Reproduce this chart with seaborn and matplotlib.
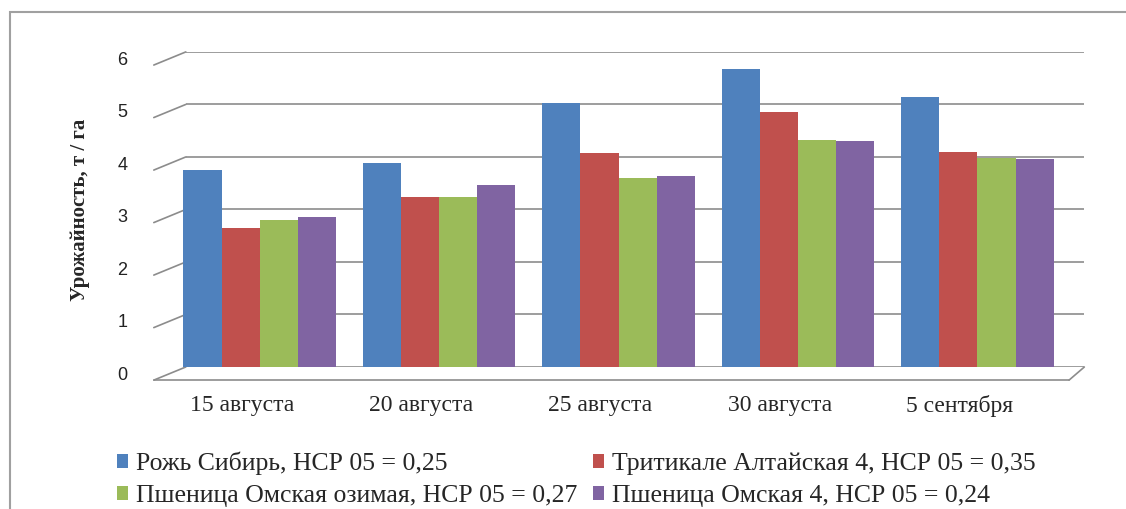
import pandas as pd
import matplotlib.pyplot as plt
import matplotlib.transforms as mtransforms
import seaborn as sns
from matplotlib.patches import Rectangle

# dates of sowing and yields, t/ha
dates = ['15 августа', '20 августа', '25 августа', '30 августа', '5 сентября']
varieties = ['Рожь Сибирь, НСР 05 = 0,25',
             'Тритикале Алтайская 4, НСР 05 = 0,35',
             'Пшеница Омская озимая, НСР 05 = 0,27',
             'Пшеница Омская 4, НСР 05 = 0,24']
rye = [3.75, 3.89, 5.03, 5.68, 5.14]
triticale = [2.65, 3.24, 4.07, 4.86, 4.10]
wheat_winter = [2.80, 3.23, 3.60, 4.32, 3.98]
wheat_4 = [2.86, 3.47, 3.64, 4.30, 3.96]
colors = ['#4F81BD', '#C0504D', '#9BBB59', '#8064A2']

data = pd.DataFrame({
    'date': dates * 4,
    'variety': [v for v in varieties for _ in dates],
    'value': rye + triticale + wheat_winter + wheat_4,
})

sns.set_theme(style='white')
fig = plt.figure(figsize=(11.26, 5.09), dpi=100)
ax = fig.add_axes([0.165, 0.279, 0.798, 0.619])

sns.barplot(data=data, x='date', y='value', hue='variety', palette=colors,
            width=0.85, ax=ax, legend=True, saturation=1, zorder=3,
            edgecolor='none')
for p in ax.patches:
    p.set_clip_on(False)

ax.set_ylim(0, 6)
ax.set_xlim(-0.412, 4.596)
ax.set_yticks(range(0, 7))
ax.yaxis.grid(True, color='#8c8c8c', linewidth=1.2, zorder=0)
for side in ['top', 'right', 'left', 'bottom']:
    ax.spines[side].set_visible(False)

# slanted wall edges at the left end of each gridline (pseudo-3D look)
trans = mtransforms.blended_transform_factory(ax.transAxes, ax.transData)
for v in range(0, 7):
    ax.plot([-0.0356, 0], [v - 0.25, v], transform=trans, color='#8c8c8c',
            linewidth=1.2, clip_on=False, zorder=1)
ax.plot([-0.0356, 0.983], [-0.25, -0.25], transform=trans, color='#8c8c8c',
        linewidth=1.2, clip_on=False, zorder=1)
ax.plot([0.983, 1.0], [-0.25, 0], transform=trans, color='#8c8c8c',
        linewidth=1.2, clip_on=False, zorder=1)

ax.tick_params(axis='y', labelsize=13, colors='#222222', pad=42, length=0)
ax.tick_params(axis='x', length=0, pad=20)
shift_y = mtransforms.ScaledTranslation(0, -4.5 / 72, fig.dpi_scale_trans)
for lbl in ax.get_yticklabels():
    lbl.set_fontfamily('Liberation Sans')
    lbl.set_transform(lbl.get_transform() + shift_y)
shift_x = mtransforms.ScaledTranslation(-13 / 72, 0, fig.dpi_scale_trans)
for lbl in ax.get_xticklabels():
    lbl.set_fontfamily('Liberation Serif')
    lbl.set_fontsize(17)
    lbl.set_transform(lbl.get_transform() + shift_x)
ax.set_xlabel('')
ax.set_ylabel('Урожайность, т / га', fontfamily='Liberation Serif',
              fontweight='bold', fontsize=15, labelpad=20)

# legend filled row by row, as in the original
handles, labels = ax.get_legend_handles_labels()
order = [0, 2, 1, 3]
ax.get_legend().remove()
fig.legend([handles[i] for i in order], [labels[i] for i in order],
           loc='lower left', bbox_to_anchor=(0.083, -0.042),
           ncol=2, frameon=False, handlelength=0.45, handleheight=0.45,
           handletextpad=0.3, columnspacing=0.6, labelspacing=0.4,
           prop={'family': 'Liberation Serif', 'size': 18.5})

# chart-area frame, cut off at the right and bottom edges of the picture
fig.patches.append(Rectangle((0.009, -0.05), 1.1, 1.026, transform=fig.transFigure,
                             fill=False, edgecolor='#a0a0a0', linewidth=1.5))

fig.savefig('out.png', dpi=100)
